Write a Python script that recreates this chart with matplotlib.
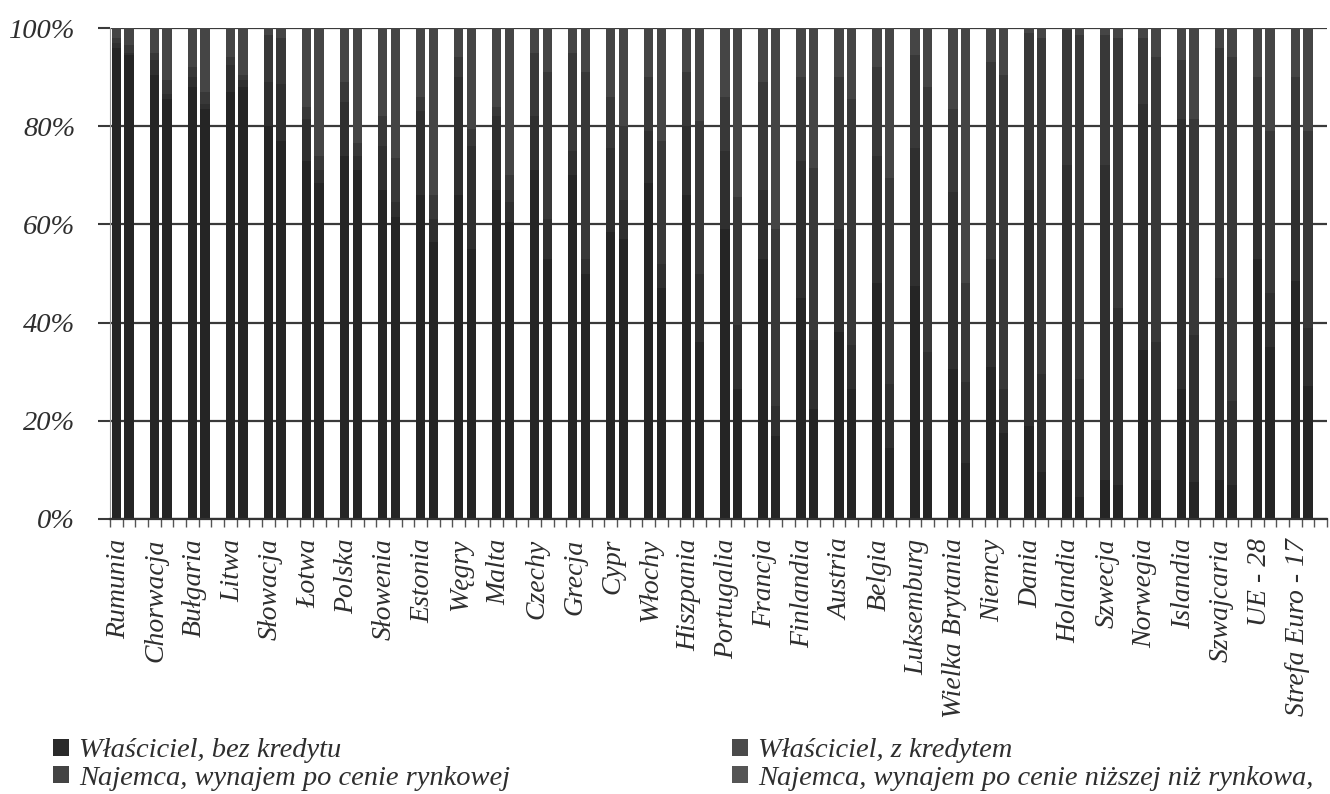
import numpy as np
import matplotlib.pyplot as plt
from matplotlib.patches import Patch
from matplotlib.ticker import MultipleLocator, PercentFormatter

countries = [
    "Rumunia", "Chorwacja", "Bułgaria", "Litwa", "Słowacja", "Łotwa", "Polska",
    "Słowenia", "Estonia", "Węgry", "Malta", "Czechy", "Grecja", "Cypr", "Włochy",
    "Hiszpania", "Portugalia", "Francja", "Finlandia", "Austria", "Belgia",
    "Luksemburg", "Wielka Brytania", "Niemcy", "Dania", "Holandia", "Szwecja",
    "Norwegia", "Islandia", "Szwajcaria", "UE - 28", "Strefa Euro - 17",
]

# first bar of each pair (%)
own_free_a = [96.0, 90.5, 88.0, 87.0, 80.0, 73.0, 74.0, 67.0, 66.0, 66.0, 67.0,
              71.0, 70.0, 58.5, 68.5, 66.0, 59.0, 53.0, 45.0, 38.0, 48.0, 47.5,
              30.5, 31.0, 19.0, 12.0, 8.0, 34.5, 26.5, 8.0, 53.0, 48.5]
own_mortgage_a = [1.0, 3.0, 2.0, 5.5, 9.0, 8.5, 11.0, 9.0, 17.0, 24.0, 15.0,
                  11.0, 5.0, 17.0, 10.5, 14.0, 16.0, 14.0, 28.0, 21.0, 26.0, 28.0,
                  36.0, 22.0, 48.0, 60.0, 64.0, 50.0, 55.0, 41.0, 18.0, 18.5]
rent_market_a = [1.0, 1.5, 2.0, 1.5, 9.5, 2.5, 4.0, 6.0, 3.0, 4.0, 2.0,
                 13.0, 20.0, 10.5, 11.0, 11.0, 11.0, 22.0, 17.0, 31.0, 18.0, 19.0,
                 17.0, 40.0, 32.0, 27.5, 26.5, 13.5, 12.0, 47.0, 19.0, 23.0]
rent_reduced_a = [2.0, 5.0, 8.0, 6.0, 1.5, 16.0, 11.0, 18.0, 14.0, 6.0, 16.0,
                  5.0, 5.0, 14.0, 10.0, 9.0, 14.0, 11.0, 10.0, 10.0, 8.0, 5.5,
                  16.5, 7.0, 1.0, 0.5, 1.5, 2.0, 6.5, 4.0, 10.0, 10.0]

# second bar of each pair (%)
own_free_b = [94.5, 85.5, 83.5, 88.0, 77.0, 68.5, 71.0, 61.5, 56.5, 55.0, 60.5,
              53.0, 50.0, 57.0, 47.0, 36.0, 26.5, 17.0, 22.5, 26.5, 14.5, 14.0,
              11.5, 17.5, 9.5, 4.5, 7.0, 8.0, 7.5, 7.0, 35.0, 27.0]
own_mortgage_b = [0.5, 1.0, 1.0, 1.5, 11.5, 2.5, 3.0, 3.0, 4.5, 21.0, 4.0,
                  8.0, 3.0, 8.0, 5.0, 14.0, 13.0, 6.0, 14.0, 9.0, 13.0, 20.0,
                  16.5, 9.0, 20.0, 24.0, 36.0, 28.0, 30.0, 17.0, 11.0, 12.0]
rent_market_b = [1.5, 3.0, 2.5, 1.0, 9.5, 3.0, 2.5, 9.0, 5.0, 3.5, 5.5,
                 30.0, 38.0, 15.0, 25.0, 31.0, 26.0, 36.0, 35.0, 50.0, 42.0, 54.0,
                 20.0, 64.0, 68.5, 70.0, 55.0, 58.0, 44.0, 70.0, 33.0, 40.0]
rent_reduced_b = [3.5, 10.5, 13.0, 9.5, 2.0, 26.0, 23.5, 26.5, 34.0, 20.5, 30.0,
                  9.0, 9.0, 20.0, 23.0, 19.0, 34.5, 41.0, 28.5, 14.5, 30.5, 12.0,
                  52.0, 9.5, 2.0, 1.5, 2.0, 6.0, 18.5, 6.0, 21.0, 21.0]

series_names = [
    "Właściciel, bez kredytu",
    "Właściciel, z kredytem",
    "Najemca, wynajem po cenie rynkowej",
    "Najemca, wynajem po cenie niższej niż rynkowa,",
]
series_colors = ["#252525", "#2f2f2f", "#383838", "#454545"]
text_color = "#2e2e2e"

plt.rcParams["font.family"] = ["Liberation Serif", "DejaVu Serif"]
plt.rcParams["font.style"] = "italic"
plt.rcParams["font.size"] = 20

fig = plt.figure(figsize=(13.3, 7.94), dpi=100)
ax = fig.add_axes([110 / 1330, 275 / 794, 1217 / 1330, 491 / 794])

# every country takes three slots: two bars and an empty gap
n = len(countries)
x_a = np.arange(n) * 3 + 0.5
x_b = x_a + 1
bar_w = 0.74

stack_a = [own_free_a, own_mortgage_a, rent_market_a, rent_reduced_a]
stack_b = [own_free_b, own_mortgage_b, rent_market_b, rent_reduced_b]
bottom_a = np.zeros(n)
bottom_b = np.zeros(n)
for vals_a, vals_b, color in zip(stack_a, stack_b, series_colors):
    ax.bar(x_a, vals_a, bar_w, bottom=bottom_a, color=color, linewidth=0)
    ax.bar(x_b, vals_b, bar_w, bottom=bottom_b, color=color, linewidth=0)
    bottom_a += np.array(vals_a)
    bottom_b += np.array(vals_b)

ax.set_xlim(0, 3 * n)
ax.set_ylim(0, 100)
ax.yaxis.set_major_locator(MultipleLocator(20))
ax.yaxis.set_major_formatter(PercentFormatter(100, decimals=0))
ax.grid(axis="y", color="#3a3a3a", linewidth=1.6)
ax.set_axisbelow(True)

ax.set_xticks(x_a + 0.15, countries, rotation=90, ha="center", va="top")
ax.xaxis.set_minor_locator(MultipleLocator(1))
ax.tick_params(axis="x", which="major", length=0, pad=14, labelcolor=text_color)
ax.tick_params(axis="x", which="minor", length=6, width=1.0, color="#555555")
ax.tick_params(axis="y", length=9, width=1.5, color="#3a3a3a", pad=16,
               labelcolor=text_color, labelsize=20.5)

for side in ("top", "right"):
    ax.spines[side].set_visible(False)
ax.spines["left"].set_color("#9a9a9a")
ax.spines["left"].set_linewidth(0.8)
ax.spines["bottom"].set_color("#333333")
ax.spines["bottom"].set_linewidth(1.6)

legend_colors = ["#2a2a2a", "#4a4a4a", "#444444", "#555555"]
handles = [Patch(facecolor=c, edgecolor="none", label=s)
           for s, c in zip(series_names, legend_colors)]
# two columns, filled row by row
fig.legend(handles=[handles[0], handles[2], handles[1], handles[3]],
           loc="upper left", bbox_to_anchor=(42 / 1330, 1 - 727 / 794),
           ncol=2, frameon=False, fontsize=20.5, handlelength=0.55,
           handleheight=0.55, handletextpad=0.35, columnspacing=7.8,
           labelspacing=0.08, labelcolor=text_color, borderaxespad=0)

fig.savefig("out.png", dpi=100)
